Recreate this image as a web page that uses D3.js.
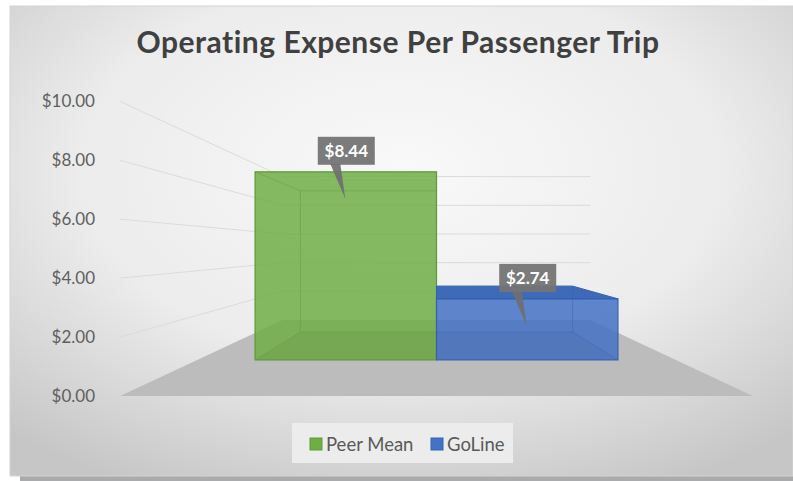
<!DOCTYPE html>
<html>
<head>
<meta charset="utf8">
<title>Operating Expense Per Passenger Trip</title>
<script src="https://d3js.org/d3.v7.min.js"></script>
<style>
  body { margin: 0; background: #fff; }
  svg { display: block; }
</style>
</head>
<body>
<script>
  // chart data
  var categories = ["Peer Mean", "GoLine"];
  var values = [8.44, 2.74];
  var labels = ["$8.44", "$2.74"];
  var barColors = ["#70ad47", "#4472c4"];
  var topColors = ["#5d9a38", "#3562b3"];
  var tickValues = [0, 2, 4, 6, 8, 10];

  var width = 793, height = 481;

  // perspective: every point is drawn in the front plane of the bars, then
  // pulled toward the vanishing point by a depth factor
  var vp = { x: 436.5, y: 248 },
      depth = { floorFront: 1.321, barFront: 1, barBack: 0.75, wall: 0.643 };

  function proj(x, y, f) {
    return [vp.x + f * (x - vp.x), vp.y + f * (y - vp.y)];
  }

  var x = d3.scaleBand().domain(categories).range([197, 676]).paddingOuter(0.32).paddingInner(0),
      y = d3.scaleLinear().domain([0, 10]).range([360, 137]);

  var svg = d3.select("body").append("svg").attr("width", width).attr("height", height);
  var defs = svg.append("defs");

  var grad = defs.append("radialGradient").attr("id", "bg")
    .attr("cx", "50%").attr("cy", "35%").attr("r", "75%");
  grad.append("stop").attr("offset", "0%").attr("stop-color", "#f9f9f9");
  grad.append("stop").attr("offset", "55%").attr("stop-color", "#ececec");
  grad.append("stop").attr("offset", "100%").attr("stop-color", "#c6c6c6");

  // frame with a little shadow under it
  svg.append("rect").attr("x", 20).attr("y", 474).attr("width", 773).attr("height", 7).attr("fill", "#a9abad");
  svg.append("rect").attr("x", 10).attr("y", 6).attr("width", 783).attr("height", 470)
    .attr("fill", "url(#bg)").attr("stroke", "#d4d4d4").attr("stroke-width", 1);

  // title
  svg.append("text")
    .attr("x", 398).attr("y", 53)
    .attr("text-anchor", "middle")
    .attr("font-family", "Lato, 'Open Sans', sans-serif")
    .attr("font-weight", "bold")
    .attr("font-size", 30)
    .attr("letter-spacing", 0.5)
    .attr("fill", "#404040")
    .text("Operating Expense Per Passenger Trip");

  var x0 = x.range()[0], x1 = x.range()[1];

  // floor
  var floor = [
    proj(x0, y(0), depth.floorFront), proj(x1, y(0), depth.floorFront),
    proj(x1, y(0), depth.wall), proj(x0, y(0), depth.wall)
  ];
  svg.append("polygon").attr("points", floor.join(" ")).attr("fill", "#bcbcbc");

  // gridlines on the left wall and the back wall
  var grid = svg.append("g").attr("stroke", "#dedada").attr("stroke-width", 1).attr("fill", "none");
  tickValues.filter(function(v) { return v > 0; }).forEach(function(v) {
    var a = proj(x0, y(v), depth.floorFront), b = proj(x0, y(v), depth.wall), c = proj(x1, y(v), depth.wall);
    grid.append("polyline").attr("points", [a, b, c].join(" "));
  });

  // y axis, placed along the front edge of the left wall
  var yScreen = d3.scaleLinear().domain(y.domain())
    .range([proj(x0, y(0), depth.floorFront)[1], proj(x0, y(10), depth.floorFront)[1]]);
  var axis = svg.append("g").attr("transform", "translate(95,0)")
    .call(d3.axisLeft(yScreen).tickValues(tickValues).tickSize(0).tickPadding(0).tickFormat(d3.format("$.2f")));
  axis.select(".domain").remove();
  axis.selectAll("text")
    .attr("font-family", "Lato, 'Open Sans', sans-serif")
    .attr("font-size", 17)
    .attr("fill", "#5f5f5f");

  // 3d bars
  var bars = svg.append("g");
  categories.forEach(function(c, i) {
    var bx0 = x(c), bx1 = x(c) + x.bandwidth(),
        yt = y(values[i]), yb = y(0),
        F = function(px, py) { return proj(px, py, depth.barFront); },
        B = function(px, py) { return proj(px, py, depth.barBack); },
        g = bars.append("g");
    var front = [F(bx0, yt), F(bx1, yt), F(bx1, yb), F(bx0, yb)],
        back = [B(bx0, yt), B(bx1, yt), B(bx1, yb), B(bx0, yb)],
        bottom = [F(bx0, yb), F(bx1, yb), B(bx1, yb), B(bx0, yb)],
        top = [F(bx0, yt), F(bx1, yt), B(bx1, yt), B(bx0, yt)];

    if (F(0, yt)[1] > vp.y) {
      g.append("polygon").attr("points", top.join(" "))
        .attr("fill", topColors[i]).attr("fill-opacity", 0.95)
        .attr("stroke", topColors[i]).attr("stroke-width", 1);
    }
    g.append("polygon").attr("points", front.join(" "))
      .attr("fill", barColors[i]).attr("fill-opacity", 0.85)
      .attr("stroke", topColors[i]).attr("stroke-width", 1.2);
    // bottom face, seen through the front
    g.append("polygon").attr("points", bottom.join(" "))
      .attr("fill", "#000").attr("fill-opacity", 0.04);
    // back edges showing through
    g.append("polygon").attr("points", back.join(" "))
      .attr("fill", "none").attr("stroke", topColors[i]).attr("stroke-opacity", 0.4);
    [0, 1, 2, 3].forEach(function(k) {
      g.append("line")
        .attr("x1", front[k][0]).attr("y1", front[k][1])
        .attr("x2", back[k][0]).attr("y2", back[k][1])
        .attr("stroke", topColors[i]).attr("stroke-opacity", 0.4);
    });
  });

  // data label callouts
  var callouts = svg.append("g");
  categories.forEach(function(c, i) {
    var cx = x(c) + x.bandwidth() / 2 + 0.5,
        yt = y(values[i]),
        bw = 57, bh = 28,
        boxTop = yt - 7 - bh;
    var g = callouts.append("g");
    g.append("polygon")
      .attr("points", [[cx - 16, boxTop + bh - 1], [cx - 6, boxTop + bh - 1], [cx - 1, yt + 27]].join(" "))
      .attr("fill", "#6f6f6f").attr("fill-opacity", 0.92);
    g.append("rect")
      .attr("x", cx - bw / 2).attr("y", boxTop).attr("width", bw).attr("height", bh)
      .attr("fill", "#747474").attr("fill-opacity", 0.95);
    g.append("text")
      .attr("x", cx).attr("y", boxTop + bh / 2 + 6)
      .attr("text-anchor", "middle")
      .attr("font-family", "Lato, 'Open Sans', sans-serif")
      .attr("font-weight", "bold")
      .attr("font-size", 17)
      .attr("fill", "#ffffff")
      .text(labels[i]);
  });

  // legend
  var legend = svg.append("g");
  legend.append("rect").attr("x", 292).attr("y", 423).attr("width", 221).attr("height", 40).attr("fill", "#ececec");
  var legendX = [310, 431];
  categories.forEach(function(c, i) {
    legend.append("rect")
      .attr("x", legendX[i]).attr("y", 438).attr("width", 12).attr("height", 12)
      .attr("fill", barColors[i]).attr("stroke", topColors[i]);
    legend.append("text")
      .attr("x", legendX[i] + 16).attr("y", 451)
      .attr("font-family", "Lato, 'Open Sans', sans-serif")
      .attr("font-size", 18.5)
      .attr("fill", "#595959")
      .text(c);
  });
</script>
</body>
</html>
